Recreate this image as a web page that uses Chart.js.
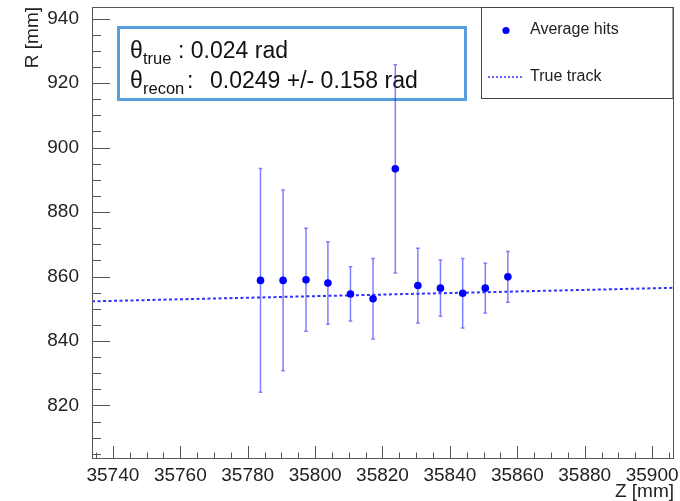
<!DOCTYPE html>
<html><head><meta charset="utf-8">
<script src="https://cdn.jsdelivr.net/npm/chart.js@4"></script>
<style>html,body{margin:0;padding:0;background:#fff}#wrap{width:680px;height:501px}</style>
</head><body><div id="wrap"><canvas id="c" width="680" height="501"></canvas></div>
<script>
// measured hits (Z, R, +/- error) and the true track line
const Z_HITS=[35783.8,35790.5,35797.3,35803.8,35810.5,35817.2,35823.8,35830.5,35837.2,35843.8,35850.5,35857.2];
const R_HITS=[858.8,858.8,859.0,858.0,854.6,853.1,893.4,857.2,856.4,854.8,856.4,859.9];
const R_ERR=[34.7,28.0,16.0,12.8,8.4,12.5,32.3,11.6,8.7,10.8,7.7,7.9];
const Z_TRACK=[35733.8,35906.5];
const R_TRACK=[852.3,856.5];
const X_TICKS=[35740,35760,35780,35800,35820,35840,35860,35880,35900];
const Y_TICKS=[820,840,860,880,900,920,940];
const Z_RANGE=[35733.8,35906.5];
const R_RANGE=[803.4,943.6];

const FONT='"Liberation Sans", Arial, sans-serif';
const AXC='#555';

const decor={id:'decor',
  beforeDatasetsDraw(ch){
    const ctx=ch.ctx, a=ch.chartArea, xs=ch.scales.x, ys=ch.scales.y;
    ctx.save();
    // info box
    ctx.strokeStyle='#5a9ee0';ctx.lineWidth=3;
    ctx.strokeRect(118.5,27.5,347,72);
    ctx.fillStyle='#111';ctx.textBaseline='alphabetic';
    ctx.font='23px '+FONT;
    ctx.fillText('\u03b8',130,58);ctx.fillText('\u03b8',130,88);
    ctx.font='16.5px '+FONT;
    ctx.fillText('true',143,64);ctx.fillText('recon',143,94);
    ctx.font='23px '+FONT;
    ctx.fillText(': 0.024 rad',178,58);
    ctx.fillText(':',187,88);
    ctx.fillText('0.0249 +/- 0.158 rad',210,88);
    // error bars
    ctx.beginPath();ctx.rect(a.left,a.top,a.right-a.left,a.bottom-a.top);ctx.clip();
    ctx.strokeStyle='rgba(40,40,255,0.6)';ctx.lineWidth=1.5;
    ctx.beginPath();
    Z_HITS.forEach((z,i)=>{
      const px=xs.getPixelForValue(z);
      const y1=ys.getPixelForValue(R_HITS[i]-R_ERR[i]), y2=ys.getPixelForValue(R_HITS[i]+R_ERR[i]);
      ctx.moveTo(px,y1);ctx.lineTo(px,y2);
      ctx.moveTo(px-1.8,y1);ctx.lineTo(px+1.8,y1);
      ctx.moveTo(px-1.8,y2);ctx.lineTo(px+1.8,y2);
    });
    ctx.stroke();
    ctx.restore();
  },
  afterDraw(ch){
    const ctx=ch.ctx, a=ch.chartArea, xs=ch.scales.x, ys=ch.scales.y;
    ctx.save();
    ctx.strokeStyle=AXC;ctx.lineWidth=1;
    ctx.beginPath();
    for(let v=Math.ceil(xs.min/5)*5;v<=xs.max;v+=5){
      const px=Math.round(xs.getPixelForValue(v))+0.5;
      const len=X_TICKS.includes(v)?13:6.5;
      ctx.moveTo(px,a.bottom);ctx.lineTo(px,a.bottom-len);
    }
    for(let v=Math.ceil(ys.min/5)*5;v<=ys.max;v+=5){
      const py=Math.round(ys.getPixelForValue(v))+0.5;
      const len=Y_TICKS.includes(v)?18:9;
      ctx.moveTo(a.left,py);ctx.lineTo(a.left+len,py);
    }
    ctx.stroke();
    ctx.strokeRect(Math.round(a.left)+0.5,Math.round(a.top)+0.5,Math.round(a.right-a.left)-1,Math.round(a.bottom-a.top)-1);
    // legend
    const lx=481.5, ly=Math.round(a.top)+0.5;
    ctx.fillStyle='#fff';ctx.fillRect(lx,ly,a.right-lx-1,91);
    ctx.strokeStyle='#444';ctx.strokeRect(lx,ly,a.right-lx-1,91);
    ctx.fillStyle='#0000ff';ctx.beginPath();ctx.arc(506,30.5,3.6,0,Math.PI*2);ctx.fill();
    ctx.strokeStyle='#3030ff';ctx.lineWidth=1.5;ctx.setLineDash([2,2]);
    ctx.beginPath();ctx.moveTo(488,77);ctx.lineTo(523,77);ctx.stroke();ctx.setLineDash([]);
    ctx.fillStyle='#222';ctx.font='16px '+FONT;ctx.textBaseline='middle';
    ctx.fillText('Average hits',530,30);
    ctx.fillText('True track',530,77);
    ctx.restore();
  }
};

const noPad=s=>{s.paddingLeft=0;s.paddingRight=0;s.paddingTop=0;s.paddingBottom=0;};

new Chart(document.getElementById('c'),{
  type:'scatter',
  data:{datasets:[
    {label:'Average hits',data:Z_HITS.map((z,i)=>({x:z,y:R_HITS[i]})),backgroundColor:'#0000ff',borderWidth:0,pointRadius:3.8},
    {label:'True track',data:Z_TRACK.map((z,i)=>({x:z,y:R_TRACK[i]})),showLine:true,borderColor:'#3030ff',borderWidth:2,borderDash:[3,2.5],pointRadius:0,fill:false}
  ]},
  options:{
    responsive:false,animation:false,
    layout:{padding:{top:7,right:6,left:0,bottom:0}},
    plugins:{legend:{display:false},tooltip:{enabled:false}},
    scales:{
      x:{type:'linear',min:Z_RANGE[0],max:Z_RANGE[1],
        afterBuildTicks:s=>{s.ticks=X_TICKS.map(v=>({value:v}));},
        afterFit:s=>{s.height=42;noPad(s);},
        grid:{display:false},border:{display:false},
        ticks:{padding:-3,color:'#222',font:{family:FONT,size:19},maxRotation:0,autoSkip:false,callback:v=>String(v)},
        title:{display:true,text:'Z [mm]',align:'end',color:'#222',font:{family:FONT,size:19,lineHeight:1},padding:0}},
      y:{type:'linear',min:R_RANGE[0],max:R_RANGE[1],
        afterBuildTicks:s=>{s.ticks=Y_TICKS.map(v=>({value:v}));},
        afterFit:s=>{s.width=92;noPad(s);},
        grid:{display:false},border:{display:false},
        ticks:{padding:5,color:'#222',font:{family:FONT,size:19},autoSkip:false,callback:v=>String(v)},
        title:{display:true,text:'R [mm]',align:'end',color:'#222',font:{family:FONT,size:19,lineHeight:1},padding:{top:23,bottom:0}}}
    }
  },
  plugins:[decor]
});
</script></body></html>
